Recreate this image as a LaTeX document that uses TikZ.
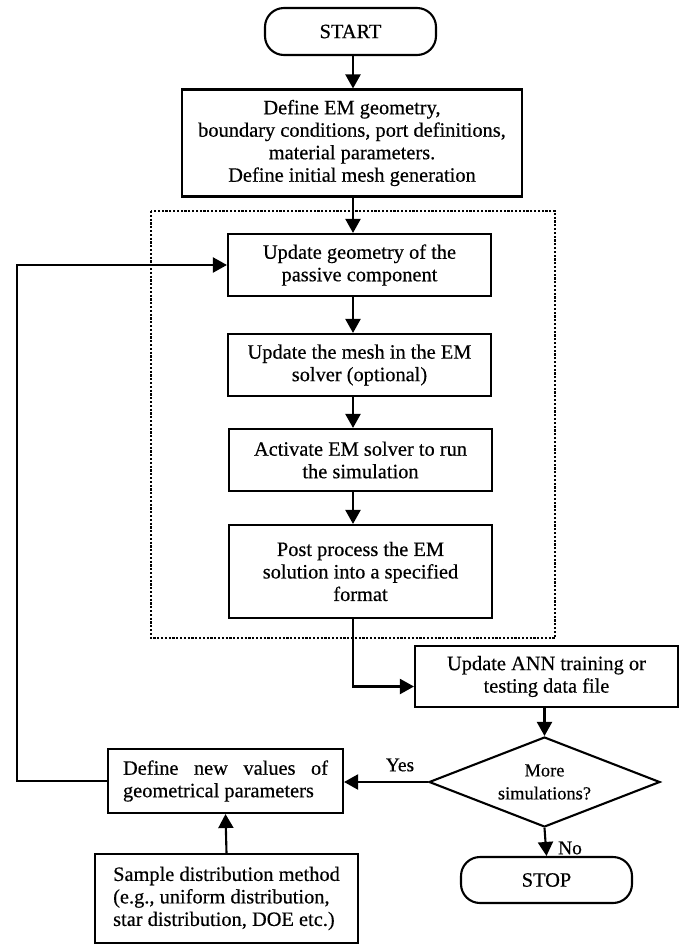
\documentclass[tikz,border=0pt]{standalone}
\usepackage{fontspec}
\setmainfont{Liberation Serif}[FakeBold=0.4]
\usetikzlibrary{arrows.meta,shapes.geometric,calc}

\begin{document}
\begin{tikzpicture}[x=1pt,y=-1pt,
  line width=2.1pt,
  every node/.style={font=\fontsize{20.4}{22.5}\selectfont},
  box/.style={draw, rectangle, inner sep=0pt, align=center},
  term/.style={draw, rectangle, rounded corners=19pt, inner sep=0pt, align=center},
  decision/.style={draw, diamond, aspect=2.57, inner sep=0pt, align=center,
    font=\fontsize{18.4}{23}\selectfont},
  flow/.style={-{Triangle[length=14pt,width=15pt]}},
  region/.style={dash pattern=on 2.2pt off 1.6pt},
  tag/.style={inner sep=0pt, font=\fontsize{19.5}{23}\selectfont}
]
\useasboundingbox (0,0) rectangle (681,946);

% main column
\node[term, minimum width=171pt, minimum height=47pt] (start) at (350.5,31.5) {START};
\node[box, minimum width=340pt, minimum height=107pt] (define) at (352,143)
  {Define EM geometry,\\boundary conditions, port definitions,\\material parameters.\\Define initial mesh generation};

% simulation loop body
\draw[region] (151,211) rectangle (555,638);
\node[box, minimum width=263pt, minimum height=62pt] (geo) at (359.5,265)
  {Update geometry of the\\passive component};
\node[box, minimum width=263pt, minimum height=62pt] (mesh) at (359.5,365)
  {Update the mesh in the EM\\solver (optional)};
\node[box, minimum width=263pt, minimum height=62pt] (act) at (360.5,460)
  {Activate EM solver to run\\the simulation};
\node[box, minimum width=263pt, minimum height=93pt] (post) at (360.5,571.5)
  {Post process the EM\\solution into a specified\\format};

% data collection and decision
\node[box, minimum width=263pt, minimum height=61pt] (ann) at (546.5,676.5)
  {Update ANN training or\\testing data file};
\node[decision, minimum width=231pt, minimum height=90pt] (dec) at (544.5,782)
  {More\\simulations?};
\node[term, minimum width=171pt, minimum height=46pt] (stop) at (546.5,880) {STOP};

% new sample generation
\node[box, align=left, minimum width=235pt, minimum height=64pt] (newv) at (225.5,781)
  {\makebox[205pt][s]{Define new values of}\\geometrical parameters};
\node[box, align=left, minimum width=263pt, minimum height=89pt] (sample) at (226.5,898.5)
  {Sample distribution method\\(e.g., uniform distribution,\\star distribution, DOE etc.)};

% helper coordinates for connector routing
\coordinate (axis) at (353,0);
\coordinate (rail) at (17,0);

% connectors
\draw[flow] (start.south -| axis) -- (define.north -| axis);
\draw[flow] (define.south -| axis) -- (geo.north -| axis);
\draw[flow] (geo.south -| axis) -- (mesh.north -| axis);
\draw[flow] (mesh.south -| axis) -- (act.north -| axis);
\draw[flow] (act.south -| axis) -- (post.north -| axis);
\draw[flow] (post.south -| axis) |- ($(ann.west)+(0,10)$);
\draw[flow] (ann.south -| dec.north) -- (dec.north);
\draw[flow] (dec.west) -- (dec.west -| newv.east);
\draw[flow] (dec.south) -- (stop.north);
\draw[flow] (sample.north) -- (newv.south);
\draw[flow] (newv.west) -- (newv.west -| rail) |- (geo.west);

% branch labels
\node[tag] (yes) at (400,765) {Yes};
\node[tag] (no) at (570,848) {No};
\end{tikzpicture}
\end{document}
